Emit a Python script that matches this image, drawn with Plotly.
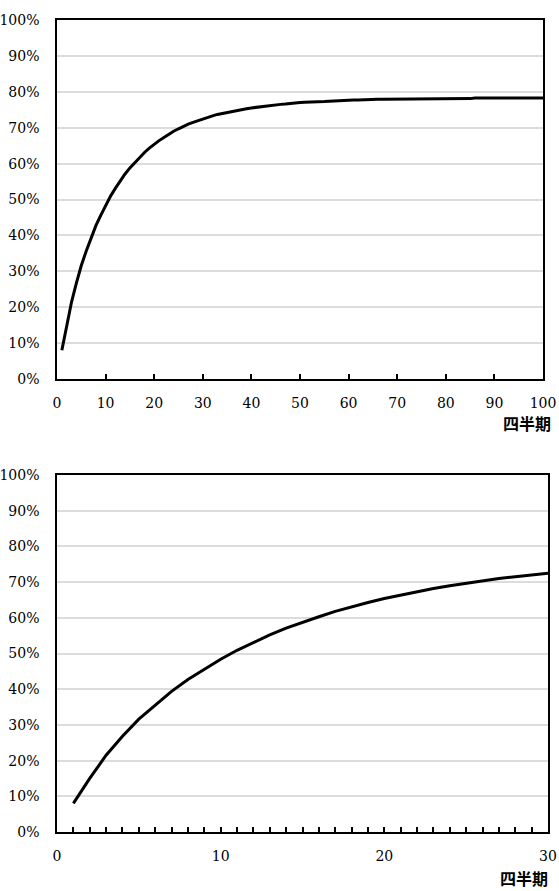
import plotly.graph_objects as go

# Bottom chart (quarters 1..30) and long-run curve (quarters 1..100), in percent
quarters_short = list(range(1, 31))
share_short = [8.0, 15.0, 21.5, 26.8, 31.6, 35.6, 39.4, 42.7, 45.6, 48.4,
               50.9, 53.1, 55.2, 57.1, 58.8, 60.3, 61.8, 63.1, 64.3, 65.4,
               66.4, 67.3, 68.2, 69.0, 69.7, 70.4, 71.0, 71.5, 72.0, 72.5]

quarters_long = list(range(1, 101))
share_long = share_short + [
    72.9, 73.3, 73.7, 74.0, 74.3, 74.6, 74.9, 75.1, 75.3, 75.5,
    75.7, 75.9, 76.1, 76.2, 76.4, 76.5, 76.6, 76.8, 76.9, 77.0,
    77.1, 77.1, 77.2, 77.3, 77.3, 77.4, 77.5, 77.5, 77.6, 77.6,
    77.7, 77.7, 77.8, 77.8, 77.8, 77.9, 77.9, 77.9, 78.0, 78.0,
    78.0, 78.0, 78.1, 78.1, 78.1, 78.1, 78.1, 78.1, 78.1, 78.1,
    78.1, 78.1, 78.1, 78.1, 78.1, 78.3, 78.3, 78.3, 78.3, 78.3,
    78.3, 78.3, 78.3, 78.3, 78.3, 78.3, 78.3, 78.3, 78.3, 78.3]

y_ticks = list(range(0, 101, 10))
y_labels = [f"{v}%" for v in y_ticks]
x_title = "四半期"

serif = "DejaVu Serif"
cjk = "Noto Sans CJK JP"

fig = go.Figure()
fig.add_trace(go.Scatter(x=quarters_long, y=share_long, mode="lines",
                         line=dict(color="black", width=3), xaxis="x", yaxis="y",
                         showlegend=False))
fig.add_trace(go.Scatter(x=quarters_short, y=share_short, mode="lines",
                         line=dict(color="black", width=3), xaxis="x2", yaxis="y2",
                         showlegend=False))

W, H = 559, 891
ml, mr, mt, mb = 57, 11, 20, 59
pw, ph = W - ml - mr, H - mt - mb

def fx(px):
    return (px - ml) / pw

def fy(py):
    return (H - mb - py) / ph

axis_common = dict(showline=True, linecolor="black", linewidth=1.5, mirror=True,
                   tickfont=dict(family=serif, size=14, color="black"),
                   zeroline=False, automargin=False)

fig.update_layout(
    width=W, height=H,
    margin=dict(l=ml, r=mr, t=mt, b=mb),
    plot_bgcolor="white", paper_bgcolor="white",
    font=dict(family=serif),
    xaxis=dict(domain=[0, fx(543)], anchor="y", range=[0, 100], dtick=10, tick0=0,
               ticks="inside", ticklen=5, tickcolor="black", tickwidth=1.5,
               ticklabelstandoff=10,
               showgrid=False, **axis_common),
    yaxis=dict(domain=[fy(379), fy(20)], anchor="x", range=[0, 100],
               tickvals=y_ticks, ticktext=y_labels, ticks="",
               showgrid=True, gridcolor="#dcdcdc", gridwidth=1.5,
               ticklabelstandoff=13, **axis_common),
    xaxis2=dict(domain=[0, 1], anchor="y2", range=[0, 30], dtick=10, tick0=0,
                ticks="inside", ticklen=5, tickcolor="black", tickwidth=1.5,
                ticklabelstandoff=10,
                minor=dict(dtick=1, ticks="inside", ticklen=5, tickcolor="black",
                           tickwidth=1.5, showgrid=False),
                showgrid=False, **axis_common),
    yaxis2=dict(domain=[0, fy(475)], anchor="x2", range=[0, 100],
                tickvals=y_ticks, ticktext=y_labels, ticks="",
                showgrid=True, gridcolor="#dcdcdc", gridwidth=1.5,
                ticklabelstandoff=13, **axis_common),
    annotations=[
        dict(text=f"<b>{x_title}</b>", xref="paper", yref="paper", x=fx(553), y=fy(423),
             xanchor="right", yanchor="middle", showarrow=False,
             font=dict(family=cjk, size=16, color="black")),
        dict(text=f"<b>{x_title}</b>", xref="paper", yref="paper", x=fx(550), y=fy(878),
             xanchor="right", yanchor="middle", showarrow=False,
             font=dict(family=cjk, size=16, color="black")),
    ],
)

fig.write_html("out.html")
